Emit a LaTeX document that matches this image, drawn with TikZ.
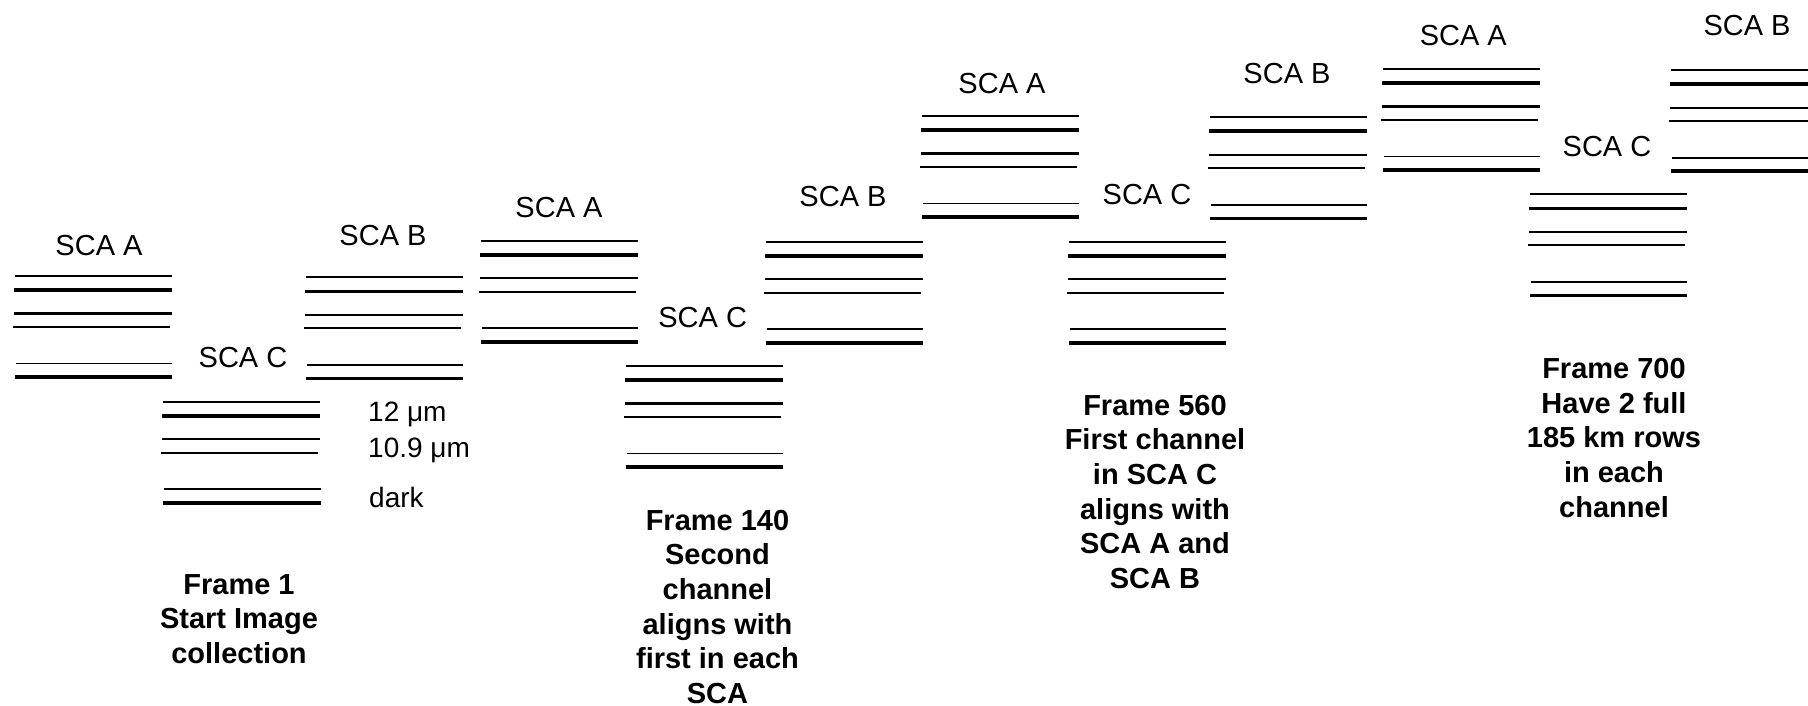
\documentclass[tikz,border=0pt]{standalone}
\usepackage{fontspec}
\setmainfont{Liberation Sans}
\begin{document}
\begin{tikzpicture}[x=1pt,y=-1pt,
  thinln/.style={line width=1.8pt},
  medln/.style={line width=2.2pt},
  thickln/.style={line width=3.6pt},
  scalabel/.style={anchor=base,inner sep=0pt,font=\fontsize{29}{34.7}\selectfont},
  wavelabel/.style={anchor=base west,inner sep=0pt,font=\fontsize{28}{34}\selectfont},
  caption/.style={anchor=base,inner sep=0pt,align=center,font=\fontsize{29}{34.7}\selectfont\bfseries}]
\useasboundingbox (0,0) rectangle (1808,706);
\clip (0,0) rectangle (1808,706);
\newcommand{\scagroup}[2]{%
  \draw[thinln]  (#1+1,#2)      -- (#1+157.7,#2);
  \draw[thickln] (#1,#2+14)     -- (#1+157.7,#2+14);
  \draw[medln]   (#1,#2+37.5)   -- (#1+157.7,#2+37.5);
  \draw[medln]   (#1-1.3,#2+51) -- (#1+156,#2+51);
  \draw[thinln]  (#1+2,#2+87.5) -- (#1+158.3,#2+87.5);
  \draw[thickln] (#1+1,#2+101)  -- (#1+158.3,#2+101);
}
% Frame 1
\scagroup{14}{276}
\scagroup{162.3}{401.7}
\scagroup{305}{277.3}
\node[scalabel] (f1a) at (99,255.4) {SCA A};
\node[scalabel] (f1c) at (243,367.4) {SCA C};
\node[scalabel] (f1b) at (383,245.4) {SCA B};
\node[wavelabel] (w12) at (368,421.5) {12 μm};
\node[wavelabel] (w109) at (368,457) {10.9 μm};
\node[wavelabel] (wdark) at (369,507) {dark};
\node[caption] (cap1) at (239,663.4) {Frame 1\\Start Image\\collection};
% Frame 140
\scagroup{480}{240.7}
\scagroup{625}{366}
\scagroup{765}{241.7}
\node[scalabel] (f140a) at (559,217) {SCA A};
\node[scalabel] (f140c) at (702.7,327.4) {SCA C};
\node[scalabel] (f140b) at (843,207) {SCA B};
\node[caption] (cap140) at (717.5,703.5) {Frame 140\\Second\\channel\\aligns with\\first in each\\SCA};
% Frame 560
\scagroup{921}{116}
\scagroup{1068}{241.7}
\scagroup{1209}{117.3}
\node[scalabel] (f560a) at (1002,93.7) {SCA A};
\node[scalabel] (f560c) at (1147,204.4) {SCA C};
\node[scalabel] (f560b) at (1287,83.7) {SCA B};
\node[caption] (cap560) at (1155,588.5) {Frame 560\\First channel\\in SCA C\\aligns with\\SCA A and\\SCA B};
% Frame 700
\scagroup{1382}{69}
\scagroup{1529}{194.3}
\scagroup{1670}{70.3}
\node[scalabel] (f700a) at (1463.3,45.4) {SCA A};
\node[scalabel] (f700c) at (1607,157) {SCA C};
\node[scalabel] (f700b) at (1747,35.4) {SCA B};
\node[caption] (cap700) at (1614,517.3) {Frame 700\\Have 2 full\\185 km rows\\in each\\channel};
\end{tikzpicture}
\end{document}
